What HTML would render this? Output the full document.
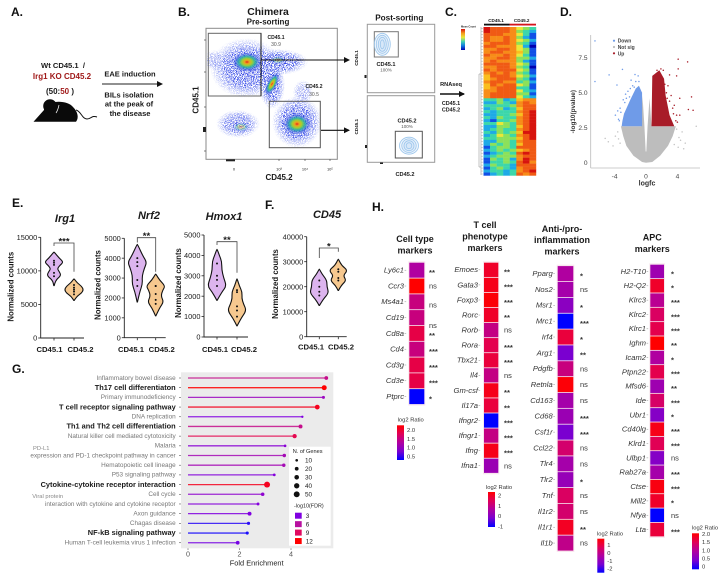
<!DOCTYPE html>
<html lang="en">
<head>
<meta charset="utf-8">
<title>Irg1 chimera figure</title>
<style>
html,body{margin:0;padding:0;background:#fff;width:720px;height:581px;overflow:hidden}
svg{display:block;font-family:"Liberation Sans",sans-serif;filter:blur(.35px)}
text{fill:#1a1a1a}
.b{font-weight:bold}
.m{text-anchor:middle}
.e{text-anchor:end}
.pl{font-weight:bold;font-size:12px;fill:#111}
</style>
</head>
<body>
<svg id="figure" width="720" height="581" viewBox="0 0 720 581" xmlns="http://www.w3.org/2000/svg">
<defs>
<radialGradient id="hot"><stop offset="0" stop-color="#e0281a"/><stop offset=".16" stop-color="#f0a020"/><stop offset=".34" stop-color="#a0d030"/><stop offset=".55" stop-color="#28b0a0" stop-opacity=".9"/><stop offset=".8" stop-color="#3050e0" stop-opacity=".45"/><stop offset="1" stop-color="#3050e0" stop-opacity="0"/></radialGradient>
<radialGradient id="cloud"><stop offset="0" stop-color="#1c30e0" stop-opacity="1"/><stop offset=".6" stop-color="#2a40e8" stop-opacity=".85"/><stop offset="1" stop-color="#5a70f0" stop-opacity="0"/></radialGradient>
<filter id="speckle" x="0" y="0" width="100%" height="100%"><feTurbulence type="fractalNoise" baseFrequency="1.1" numOctaves="2" seed="4" result="n"/><feColorMatrix in="n" type="matrix" values="0 0 0 0 0 0 0 0 0 0 0 0 0 0 0 0 0 0 -14 7.2" result="m"/><feComposite in="SourceGraphic" in2="m" operator="in"/></filter>
<clipPath id="flow-clip"><rect x="207" y="29" width="129.5" height="129.5"/></clipPath>
<linearGradient id="ratio" x1="0" y1="0" x2="0" y2="1"><stop offset="0" stop-color="#ff0000"/><stop offset=".25" stop-color="#e00058"/><stop offset=".5" stop-color="#b000a0"/><stop offset=".75" stop-color="#7a00d0"/><stop offset="1" stop-color="#0000ff"/></linearGradient>
<linearGradient id="meancount" x1="0" y1="0" x2="0" y2="1"><stop offset="0" stop-color="#d7100e"/><stop offset=".2" stop-color="#f59a1c"/><stop offset=".4" stop-color="#e8e838"/><stop offset=".6" stop-color="#40d0b0"/><stop offset=".8" stop-color="#1078e0"/><stop offset="1" stop-color="#0000b0"/></linearGradient>
<marker id="ah" markerWidth="6" markerHeight="6" refX="5" refY="3" orient="auto" markerUnits="userSpaceOnUse"><path d="M0,0 L6,3 L0,6 Z" fill="#111"/></marker>
</defs>

<g>
<text class="pl" x="11" y="16">A.</text>
<text class="b m" x="63" y="68" font-size="7.6">Wt CD45.1 &#160;/</text>
<text class="b m" x="62" y="79" font-size="8" style="fill:#a01a1a">Irg1 KO CD45.2</text>
<text class="b m" x="60" y="94" font-size="8">(50:<tspan style="fill:#a01a1a">50</tspan> )</text>
<g>
<path d="M33.5,121.8 L44,110 C44,103 50,100 55,102 C62,101 70,103 73,107 C78,112 79,118 76,121.8 Z" fill="#0a0a0a"/>
<circle cx="50" cy="106" r="6.8" fill="#0a0a0a"/>
<path d="M59,105 Q58,110 56,113" stroke="#fff" stroke-width=".7" fill="none"/>
<path d="M76,110 C81,111 82,119 87,119 C91,119 92,115 97,117" stroke="#111" stroke-width="1" fill="none"/>
</g>
<text class="b m" x="130" y="76.5" font-size="7.5">EAE induction</text>
<line x1="102" y1="84" x2="162" y2="84" stroke="#222" stroke-width="1" marker-end="url(#ah)"/>
<text class="b m" x="129" y="97.5" font-size="7.5">BILs isolation</text>
<text class="b m" x="129" y="106.5" font-size="7.5">at the peak of</text>
<text class="b m" x="130" y="116" font-size="7.5">the disease</text>
</g>

<g>
<text class="pl" x="178" y="16">B.</text>
<text class="b m" x="268" y="15" font-size="10.4">Chimera</text>
<text class="b m" x="268" y="24.5" font-size="8">Pre-sorting</text>
<g>
<rect x="206" y="28.3" width="131.3" height="131" fill="#fff" stroke="#8a8a8a" stroke-width="1"/>
<g clip-path="url(#flow-clip)">
<g filter="url(#speckle)">
<rect x="207" y="29" width="129" height="129" fill="none"/>
<ellipse cx="246" cy="68" rx="36" ry="30" fill="url(#cloud)"/>
<ellipse cx="278" cy="62" rx="30" ry="13" fill="url(#cloud)"/>
<ellipse cx="272" cy="85" rx="13" ry="24" fill="url(#cloud)"/>
<ellipse cx="297" cy="122" rx="25" ry="26" fill="url(#cloud)"/>
<ellipse cx="238" cy="124" rx="22" ry="14" fill="url(#cloud)" opacity=".8"/>
<ellipse cx="303" cy="92" rx="10" ry="12" fill="url(#cloud)" opacity=".5"/>
<ellipse cx="214" cy="60" rx="11" ry="10" fill="url(#cloud)" opacity=".45"/>
</g>
<ellipse cx="247" cy="62" rx="15" ry="10" fill="url(#hot)"/>
<ellipse cx="272" cy="84" rx="5" ry="13" fill="url(#hot)" transform="rotate(28 272 84)"/>
<ellipse cx="278" cy="60" rx="8" ry="4" fill="url(#hot)" opacity=".4"/>
<ellipse cx="297" cy="124" rx="14" ry="11" fill="url(#hot)"/>
<ellipse cx="241" cy="127" rx="9" ry="5" fill="url(#hot)" opacity=".4"/>
</g>
<path d="M204,40h2M204,72h2M204,107h2M204,151h2M234,159v2M279,159v2M305,159v2M330,159v2" stroke="#555" stroke-width=".7"/>
<rect x="203" y="127" width="3" height="5" fill="#222"/>
<rect x="226" y="159.3" width="9" height="2" fill="#222"/>
</g>
<rect x="208.3" y="33.3" width="52.7" height="62.7" fill="none" stroke="#666" stroke-width="1"/>
<line x1="261" y1="33.3" x2="261" y2="96" stroke="#111" stroke-width="1"/>
<rect x="269.3" y="101.3" width="51" height="46.4" fill="none" stroke="#555" stroke-width="1"/>
<line x1="261" y1="60" x2="349" y2="60" stroke="#111" stroke-width="1.1" marker-end="url(#ah)"/>
<line x1="321" y1="130.3" x2="349" y2="130.3" stroke="#111" stroke-width="1.1" marker-end="url(#ah)"/>
<text class="b m" x="276" y="39" font-size="5">CD45.1</text>
<text class="m" x="276" y="46" font-size="5" style="fill:#555">30.9</text>
<text class="b m" x="314" y="88" font-size="5">CD45.2</text>
<text class="m" x="314" y="96" font-size="5" style="fill:#555">30.5</text>
<text class="b m" font-size="8" transform="translate(198.5 100) rotate(-90)">CD45.1</text>
<text class="b m" x="279" y="180" font-size="8">CD45.2</text>
<text class="m" x="234" y="170.5" font-size="4">0</text>
<text class="m" x="279" y="170.5" font-size="4">10³</text>
<text class="m" x="305" y="170.5" font-size="4">10⁴</text>
<text class="m" x="330" y="170.5" font-size="4">10⁵</text>

<text class="b m" x="399.3" y="20.5" font-size="8.2">Post-sorting</text>
<g>
<rect x="367.3" y="24.3" width="67.4" height="68.4" fill="#fff" stroke="#999" stroke-width="1"/>
<rect x="374.3" y="31.7" width="24" height="25.3" fill="none" stroke="#777" stroke-width="1"/>
<g fill="#cfe2f6" fill-opacity=".35" stroke="#9cc6ec" stroke-width=".8">
<ellipse cx="382.3" cy="44.3" rx="8" ry="11"/><ellipse cx="382.3" cy="44.3" rx="6" ry="9"/><ellipse cx="382.3" cy="44.3" rx="4" ry="7"/><ellipse cx="382.3" cy="44.3" rx="2" ry="4.5"/></g>
<text class="b m" x="386" y="66" font-size="5.6">CD45.1</text>
<text class="m" x="386" y="71.5" font-size="4.5" style="fill:#555">100%</text>
<rect x="364.5" y="75" width="2" height="3" fill="#222"/>
</g>
<g>
<rect x="367.3" y="95.7" width="67.4" height="66.6" fill="#fff" stroke="#999" stroke-width="1"/>
<rect x="395.3" y="131.3" width="27" height="26.7" fill="none" stroke="#555" stroke-width="1"/>
<g fill="#cfe2f6" fill-opacity=".35" stroke="#9cc6ec" stroke-width=".8">
<ellipse cx="409" cy="145.7" rx="9.5" ry="8.5"/><ellipse cx="409" cy="145.7" rx="7.2" ry="6.8"/><ellipse cx="409" cy="145.7" rx="5" ry="5"/><ellipse cx="409" cy="145.7" rx="2.8" ry="3"/></g>
<text class="b m" x="407" y="122.5" font-size="5.6">CD45.2</text>
<text class="m" x="407" y="128" font-size="4.5" style="fill:#555">100%</text>
<rect x="365" y="145" width="2" height="3" fill="#222"/>
<rect x="380" y="162.5" width="3" height="1.5" fill="#222"/>
</g>
<text class="b m" font-size="4.6" transform="translate(358 58) rotate(-90)">CD45.1</text>
<text class="b m" font-size="4.6" transform="translate(358 126.7) rotate(-90)">CD45.1</text>
<text class="b m" x="405" y="176" font-size="5.6">CD45.2</text>
</g>

<g>
<text class="pl" x="445" y="16">C.</text>
<text class="b m" x="451" y="86" font-size="5.6">RNAseq</text>
<line x1="440" y1="94" x2="464" y2="94" stroke="#111" stroke-width="1.4" marker-end="url(#ah)"/>
<text class="b m" x="451" y="105" font-size="5.4">CD45.1</text>
<text class="b m" x="451" y="111.5" font-size="5.4">CD45.2</text>
<text class="b m" x="496" y="22" font-size="4.6">CD45.1</text>
<text class="b m" x="521.7" y="22" font-size="4.6">CD45.2</text>
<rect x="484" y="23.7" width="25.5" height="1.8" fill="#111"/>
<rect x="509.5" y="23.7" width="26.5" height="1.8" fill="#d4141c"/>
<text x="461" y="27.3" font-size="2.6" class="b">Mean Count</text>
<rect x="461" y="29" width="4" height="21" fill="url(#meancount)"/>
<path d="M479,74V167M479,74h2M479,167h2M481,27V175" stroke="#aaa" stroke-width=".7" fill="none"/>
<g id="heatmap"></g>
</g>

<g>
<text class="pl" x="560" y="16">D.</text>
<g id="volcano"></g>
<text class="b m" font-size="6.4" transform="translate(575 111.7) rotate(-90)" style="fill:#333">-log10(pvalue)</text>
<text class="b m" x="647" y="185.5" font-size="7" style="fill:#333">logfc</text>
<circle cx="614" cy="40.7" r="1.1" fill="#6f9be8"/>
<circle cx="614" cy="47" r="1.1" fill="#bbb"/>
<circle cx="614" cy="53.3" r="1.1" fill="#a81c28"/>
<text class="b" x="617.7" y="42.7" font-size="5" style="fill:#444">Down</text>
<text class="b" x="617.7" y="49" font-size="5" style="fill:#444">Not sig</text>
<text class="b" x="617.7" y="55.3" font-size="5" style="fill:#444">Up</text>
</g>

<g>
<text class="pl" x="12" y="207">E.</text>
<g id="violins"></g>
</g>
<text class="pl" x="265" y="209">F.</text>

<g>
<text class="pl" x="12" y="373">G.</text>
<rect x="181" y="372.3" width="152.3" height="176" fill="#ebebeb"/>
<g id="lollipop"></g>
<text x="33" y="450" font-size="5.8" style="fill:#888">PD-L1</text>
<text x="32.3" y="498" font-size="5.8" style="fill:#888">Viral protein</text>
<text class="m" x="256.7" y="565.5" font-size="7.4" style="fill:#222">Fold Enrichment</text>
<rect x="289" y="446.7" width="41.7" height="99" fill="#fff"/>
<text x="292.7" y="453" font-size="5.6" style="fill:#222">N. of Genes</text>
<text x="294" y="507.5" font-size="5.4" style="fill:#222">-log10(FDR)</text>
<g id="lollipop-legend"></g>
</g>

<g>
<text class="pl" x="372" y="211">H.</text>
<text class="b m" x="415" y="242" font-size="9">Cell type</text>
<text class="b m" x="415" y="253.5" font-size="9">markers</text>
<text class="b m" x="485" y="228" font-size="9">T cell</text>
<text class="b m" x="485" y="239.5" font-size="9">phenotype</text>
<text class="b m" x="485" y="251" font-size="9">markers</text>
<text class="b m" x="562" y="232" font-size="9">Anti-/pro-</text>
<text class="b m" x="562" y="243" font-size="9">inflammation</text>
<text class="b m" x="562" y="254.5" font-size="9">markers</text>
<text class="b m" x="652.3" y="240.5" font-size="9">APC</text>
<text class="b m" x="652.3" y="252" font-size="9">markers</text>
<g id="heat-strips"></g>
<g id="ratio-legends"></g>
</g>
</svg>

<script>
/* ---------- Panel C: heatmap rows, each digit is one sample's scaled mean count (0 low, 9 high) ---------- */
const heatmapRows = [
"98887543","98887432","88877531","87787421","87787542","78887431","88777520","77887541",
"78877641","87787531","77887442","78777421","88887541","77887430","87888541","78787431",
"68887542","67888431","78877342","68788541","67888331","77888532","78888441","78888532",
"33423677","22432787","33334788","23423688","32333789","22334689","32433789","21334789",
"33543789","22443689","23433789","32434699","23543789","33444689","22443788","24343688",
"13443888","23434678","12343898","23444788","14342798","13343897","24332888","13432788",
"23323789","12323878"
];
/* ---------- Panel D: volcano points ---------- */
const volcanoTicksX = [-4, 0, 4];
const volcanoTicksY = [0, 2.5, 5.0, 7.5];
const grayLogfc = [0,-0.5,-1.6,-2.5,-2.9,-3.2,-0.6,-0.45,-0.2,-0.04,0.04,0.2,0.45,0.7,3.8,3.4,2.8,1.8,0.8];
const grayLogp  = [0,0.05,0.5,1.2,1.9,2.6,2.6,4.8,2.6,0.8,0.8,2.6,4.6,2.6,2.6,1.9,1.2,0.5,0.05];
const grayExtraLogfc = [-5.2,-4.8,-3.9,-4.2,-3.6,6.4,5.0,4.6,4.2,4.8,3.9,4.4,-3.3,-3.5,3.6,4.1];
const grayExtraLogp  = [1.74,1.5,1.9,1.2,2.2,2.6,1.4,2.2,1.8,1.0,2.4,1.6,1.4,1.7,1.3,1.1];
const blueLogfc = [-0.5,-3.1,-3.0,-2.8,-2.0,-1.3,-0.9,-0.5];
const blueLogp  = [2.6,2.6,3.0,3.5,4.5,5.3,5.5,5.0];
const bluePointsLogfc = [-6.5,-6.5,-4.7,-3.0,-3.7,-1.4,-1.0,-1.9,-3.6,-3.9,-3.4,-3.3,-3.5,-2.9,-2.6,-2.3,-2.0,-1.7,-1.3,-0.9,-2.7,-3.2,-2.1,-1.5,-2.5];
const bluePointsLogp  = [8.7,5.8,6.27,6.67,5.55,6.3,6.2,5.9,3.7,3.4,3.0,3.9,3.1,4.5,4.9,5.1,5.3,5.5,5.8,5.8,4.3,3.6,4.7,5.4,4.6];
const redLogfc = [0.7,3.6,3.0,2.5,2.3,1.7,0.8];
const redLogp  = [2.6,2.6,3.4,4.8,6.0,6.6,6.2];
const redPointsLogfc = [4.1,5.3,5.8,6.0,5.4,4.1,3.0,3.9,2.2,4.3,3.9,4.3,3.5,2.6,3.0,3.4,3.8,2.8,3.2,4.0,2.4,1.9,1.4,3.1,2.7,3.6];
const redPointsLogp  = [7.4,7.2,4.7,3.75,3.8,6.7,6.27,6.2,6.6,4.6,3.4,3.4,3.5,5.0,4.4,3.9,3.0,5.5,4.8,2.9,5.6,6.7,6.6,3.0,4.6,4.1];
/* ---------- Panels E/F: violin densities ---------- */
const groupLabels = ["CD45.1", "CD45.2"];
const irg1Ticks = [0, 5000, 10000, 15000];
const irg1WtLevels = [7800,8600,9300,9900,10300,10800,11300,11900,12800];
const irg1WtDensity = [.02,.15,.75,.55,.35,.6,1,.55,.02];
const irg1WtDots = [9200,9700,10900,11200,11500];
const irg1KoLevels = [5600,6200,6700,7200,7700,8200,8800];
const irg1KoDensity = [.02,.3,.8,1,.8,.35,.02];
const irg1KoDots = [6500,6900,7200,7500,7900];
const nrf2Ticks = [0, 1000, 2000, 3000, 4000, 5000];
const nrf2WtLevels = [1800,2300,2700,3100,3500,3800,4100,4700];
const nrf2WtDensity = [.02,.25,.55,.5,.75,1,.6,.02];
const nrf2WtDots = [2600,2900,3600,3800,4000];
const nrf2KoLevels = [1100,1500,1800,2100,2400,2600,2900,3200];
const nrf2KoDensity = [.02,.4,.85,.55,.75,1,.4,.02];
const nrf2KoDots = [1700,1900,2200,2600,2600];
const hmox1Ticks = [0, 1000, 2000, 3000, 4000, 5000];
const hmox1WtLevels = [1800,2200,2500,2900,3300,3700,4000,4300];
const hmox1WtDensity = [.02,.5,1,.7,.5,.5,.25,.02];
const hmox1WtDots = [2500,2800,3000,3600];
const hmox1KoLevels = [550,900,1300,1600,1900,2200,2500,2850];
const hmox1KoDensity = [.02,.4,1,.7,.5,.55,.25,.02];
const hmox1KoDots = [1000,1300,1500,2200,2300];
const cd45Ticks = [0, 10000, 20000, 30000, 40000];
const cd45WtLevels = [12500,15000,17500,20000,22500,25000,27000];
const cd45WtDensity = [.02,.4,1,.8,.8,.3,.02];
const cd45WtDots = [16500,18000,20000,22500];
const cd45KoLevels = [18500,20500,22500,24500,26500,28500,31000];
const cd45KoDensity = [.02,.3,.85,.5,1,.35,.02];
const cd45KoDots = [22500,23500,26000,27000];
/* ---------- Panel G: enrichment ---------- */
const pathways = ["Inflammatory bowel disease","Th17 cell differentiaton","Primary immunodeficiency","T cell receptor signaling pathway","DNA replication","Th1 and Th2 cell differentiation","Natural killer cell mediated cytotoxicity","Malaria","expression and PD-1 checkpoint pathway in cancer","Hematopoietic cell lineage","P53 signaling pathway","Cytokine-cytokine receptor interaction","Cell cycle","interaction with cytokine and cytokine receptor","Axon guidance","Chagas disease","NF-kB signaling pathway","Human T-cell leukemia virus 1 infection"];
const boldPathways = ["Th17 cell differentiaton","T cell receptor signaling pathway","Th1 and Th2 cell differentiation","Cytokine-cytokine receptor interaction","NF-kB signaling pathway"];
const foldEnrichment = [5.37,5.29,5.26,5.02,4.44,4.37,4.14,3.77,3.74,3.72,3.35,3.07,2.90,2.72,2.39,2.35,2.30,1.93];
const geneCounts = [20,35,13,32,8,22,26,10,17,17,11,50,18,12,22,14,14,20];
const fdrLog = [7,12,4.5,11,3,7,9.5,3.5,5,5,3.2,11,3.8,3.2,3,1.5,1.2,2.8];
const axisFoldTicks = [0, 2, 4];
const geneLegend = [10, 20, 30, 40, 50];
const fdrLegend = [3, 6, 9, 12];
/* ---------- Panel H: log2 ratio strips ---------- */
const cellTypeGenes = ["Ly6c1","Ccr3","Ms4a1","Cd19","Cd8a","Cd4","Cd3g","Cd3e","Ptprc"];
const cellTypeRatios = [1.2,2.1,1.42,1.42,1.74,1.42,1.74,1.74,0.3];
const cellTypeSig = ["**","ns","ns","ns","**","***","***","***","*"];
const tCellGenes = ["Emoes","Gata3","Foxp3","Rorc","Rorb","Rora","Tbx21","Il4","Gm-csf","Il17a","Ifngr2","Ifngr1","Ifng","Ifna1"];
const tCellRatios = [1.8,1.96,2.13,1.8,0.84,1.45,1.62,0.84,1.96,1.62,-1.2,0.84,1.96,0.16];
const tCellSig = ["**","***","***","**","ns","***","***","ns","**","**","***","***","***","ns"];
const inflammationGenes = ["Pparg","Nos2","Msr1","Mrc1","Irf4","Arg1","Pdgfb","Retnla","Cd163","Cd68","Csf1r","Ccl22","Tlr4","Tlr2","Tnf","Il1r2","Il1r1","Il1b"];
const inflammationRatios = [-0.4,-0.6,-1.08,-2.4,0.92,-1.4,0.08,1.52,-0.6,-0.8,-1.4,0.32,-0.6,-0.88,0.48,0.32,1.2,-0.08];
const inflammationSig = ["*","ns","*","***","*","**","ns","ns","ns","***","***","ns","ns","*","ns","ns","**","ns"];
const apcGenes = ["H2-T10","H2-Q2","Klrc3","Klrc2","Klrc1","Ighm","Icam2","Ptpn22","Mfsd6","Ide","Ubr1","Cd40lg","Klrd1","Ulbp1","Rab27a","Ctse","Mill2","Nfya","Lta"];
const apcRatios = [0.82,1.84,1.11,1.48,1.62,2.1,1.0,1.62,0.82,1.44,0.56,1.95,1.57,0.56,0.89,2.0,1.84,-0.1,1.73];
const apcSig = ["*","*","***","***","***","**","*","***","**","***","*","***","***","ns","***","***","*","ns","***"];
const cellTypeLegendTicks = ["2.0","1.5","1.0","0.5"];
const tCellLegendTicks = ["2","1","0","-1"];
const inflammationLegendTicks = ["1","0","-1","-2"];
const apcLegendTicks = ["2.0","1.5","1.0","0.5","0"];

const NS = "http://www.w3.org/2000/svg";
function mk(parent, tag, attrs, txt) {
  const el = document.createElementNS(NS, tag);
  for (const k in attrs) el.setAttribute(k, attrs[k]);
  if (txt !== undefined) el.textContent = txt;
  parent.appendChild(el);
  return el;
}
function hexLerp(stops, t) {
  t = Math.max(0, Math.min(1, t));
  const n = stops.length - 1, i = Math.min(n - 1, Math.floor(t * n)), f = t * n - i;
  const a = stops[i], b = stops[i + 1];
  return "rgb(" + a.map((v, k) => Math.round(v + (b[k] - v) * f)).join(",") + ")";
}
const ratioStops = [[0,0,255],[122,0,208],[176,0,160],[224,0,88],[255,0,0]];
const countStops = [[0,0,176],[16,80,230],[30,170,230],[60,215,170],[140,225,90],[235,232,56],[250,190,30],[247,140,24],[240,90,20],[215,20,14]];

/* Heatmap */
(function () {
  const g = document.getElementById("heatmap");
  const left = 483.5, top = 27, cw = 52.5 / 8, rh = 148.5 / heatmapRows.length;
  heatmapRows.forEach((row, r) => {
    row.split("").forEach((d, c) => {
      const cell = mk(g, "rect", {x: left + c * cw, y: top + r * rh, width: cw + .2, height: rh + .2, fill: hexLerp(countStops, (+d) / 9)});
      
      
    });
    const tick = mk(g, "line", {x1: 481, x2: 483, y1: top + r * rh + rh / 2, y2: top + r * rh + rh / 2, stroke: "#999", "stroke-width": .4});
    
    
  });
})();

/* Volcano */
(function () {
  const g = document.getElementById("volcano");
  const X = v => 646 + v * 7.85, Y = v => 162.7 - v * 14;
  const poly = (xs, ys, fill, name) => {
    const p = mk(g, "polygon", {points: xs.map((x, i) => X(x) + "," + Y(ys[i])).join(" "), fill: fill});
    
    
  };
  const dots = (xs, ys, fill, name) => xs.forEach((x, i) => {
    const c = mk(g, "circle", {cx: X(x), cy: Y(ys[i]), r: .75, fill: fill});
    
    
  });
  poly(grayLogfc, grayLogp, "#bdbdbd", "not-significant-cloud");
  dots(grayExtraLogfc, grayExtraLogp, "#c4c4c4", "not-significant-point");
  poly(blueLogfc, blueLogp, "#6f9be8", "down-regulated-cloud");
  dots(bluePointsLogfc, bluePointsLogp, "#6f9be8", "down-regulated-point");
  poly(redLogfc, redLogp, "#a81c28", "up-regulated-cloud");
  dots(redPointsLogfc, redPointsLogp, "#a81c28", "up-regulated-point");
  const yAxis = mk(g, "line", {x1: 590.7, x2: 590.7, y1: 35, y2: 168, stroke: "#bbb", "stroke-width": .8});
  
  
  const xAxis = mk(g, "line", {x1: 590.7, x2: 700, y1: 168, y2: 168, stroke: "#bbb", "stroke-width": .8});
  
  
  volcanoTicksX.forEach(t => {
    const l = mk(g, "text", {x: X(t), y: 178.5, "font-size": 6.6, "text-anchor": "middle", style: "fill:#444"}, String(t));
    
    
  });
  volcanoTicksY.forEach(t => {
    const l = mk(g, "text", {x: 587.5, y: Y(t) + 2.3, "font-size": 6.6, "text-anchor": "end", style: "fill:#444"}, t === 0 ? "0" : t.toFixed(1));
    
    
  });
})();

/* Violins */
function violinPath(levels, density, yS, cx, w) {
  const pts = [];
  levels.forEach((v, i) => pts.push([cx + density[i] * w, yS(v)]));
  for (let i = levels.length - 1; i >= 0; i--) pts.push([cx - density[i] * w, yS(levels[i])]);
  let d = "M" + pts[0][0] + "," + pts[0][1];
  for (let i = 1; i < pts.length - 1; i++) {
    const mx = (pts[i][0] + pts[i + 1][0]) / 2, my = (pts[i][1] + pts[i + 1][1]) / 2;
    d += "Q" + pts[i][0] + "," + pts[i][1] + " " + mx + "," + my;
  }
  return d + "L" + pts[pts.length - 1][0] + "," + pts[pts.length - 1][1] + "Z";
}
function drawViolinPanel(cfg) {
  const g = mk(document.getElementById("violins"), "g", {});
  
  
  const yS = v => cfg.y0 - (v / cfg.yMax) * (cfg.y0 - cfg.yTop);
  const title = mk(g, "text", {x: cfg.titleX, y: cfg.titleY, "font-size": 11, "font-weight": "bold", "font-style": "italic", "text-anchor": "middle"}, cfg.title);
  
  
  const yl = mk(g, "text", {"font-size": 7.8, "font-weight": "bold", "text-anchor": "middle", transform: "translate(" + cfg.ylX + " " + cfg.ylY + ") rotate(-90)"}, "Normalized counts");
  
  
  const axis = mk(g, "path", {d: "M" + cfg.x0 + "," + cfg.yTop + "V" + cfg.y0 + "H" + cfg.xEnd, fill: "none", stroke: "#222", "stroke-width": .9});
  
  
  cfg.ticks.forEach(t => {
    const tk = mk(g, "line", {x1: cfg.x0 - 2.5, x2: cfg.x0, y1: yS(t), y2: yS(t), stroke: "#222", "stroke-width": .8});
    
    
    const lb = mk(g, "text", {x: cfg.x0 - 3.5, y: yS(t) + 2.6, "font-size": 7.4, "text-anchor": "end"}, String(t));
    
    
  });
  cfg.series.forEach((s, i) => {
    const tk = mk(g, "line", {x1: cfg.cx[i], x2: cfg.cx[i], y1: cfg.y0, y2: cfg.y0 + 2.5, stroke: "#222", "stroke-width": .8});
    
    
    const lb = mk(g, "text", {x: cfg.lx[i], y: cfg.labelY, "font-size": 7.7, "font-weight": "bold", "text-anchor": "middle"}, groupLabels[i]);
    
    
    const v = mk(g, "path", {d: violinPath(s.levels, s.density, yS, cfg.cx[i], 9.5), fill: i ? "#f6c88f" : "#dcb4ee", stroke: "#111", "stroke-width": 1.1});
    
    
    s.dots.forEach(val => {
      const c = mk(g, "circle", {cx: cfg.cx[i], cy: yS(val), r: 1, fill: "#111"});
      
      
    });
  });
  const br = mk(g, "path", {d: "M" + cfg.cx[0] + "," + cfg.brL + "V" + cfg.brY + "H" + cfg.cx[1] + "V" + cfg.brR, fill: "none", stroke: "#444", "stroke-width": .8});
  
  
  const st = mk(g, "text", {x: (cfg.cx[0] + cfg.cx[1]) / 2, y: cfg.brY + 1.5, "font-size": 9.5, "font-weight": "bold", "text-anchor": "middle"}, cfg.stars);
  
  
}
drawViolinPanel({key:"irg1",title:"Irg1",titleX:65,titleY:222,ylX:13.5,ylY:286.7,x0:40.7,y0:338,yTop:237.3,xEnd:84,yMax:15000,ticks:irg1Ticks,cx:[54,74],lx:[49.5,80.5],labelY:352,brY:243,brL:246,brR:271.7,stars:"***",
  series:[{levels:irg1WtLevels,density:irg1WtDensity,dots:irg1WtDots},{levels:irg1KoLevels,density:irg1KoDensity,dots:irg1KoDots}]});
drawViolinPanel({key:"nrf2",title:"Nrf2",titleX:149,titleY:219,ylX:100.5,ylY:285,x0:124.3,y0:337.7,yTop:238.3,xEnd:165.7,yMax:5000,ticks:nrf2Ticks,cx:[137.3,155.7],lx:[131,161.7],labelY:352,brY:237.7,brL:242.5,brR:271.7,stars:"**",
  series:[{levels:nrf2WtLevels,density:nrf2WtDensity,dots:nrf2WtDots},{levels:nrf2KoLevels,density:nrf2KoDensity,dots:nrf2KoDots}]});
drawViolinPanel({key:"hmox1",title:"Hmox1",titleX:224,titleY:220,ylX:181,ylY:283,x0:204,y0:337,yTop:235,xEnd:248,yMax:5000,ticks:hmox1Ticks,cx:[217,237],lx:[215,244],labelY:352,brY:241.7,brL:245,brR:272.7,stars:"**",
  series:[{levels:hmox1WtLevels,density:hmox1WtDensity,dots:hmox1WtDots},{levels:hmox1KoLevels,density:hmox1KoDensity,dots:hmox1KoDots}]});
drawViolinPanel({key:"cd45",title:"CD45",titleX:327,titleY:218,ylX:278,ylY:284,x0:306.7,y0:336.7,yTop:236.7,xEnd:346.7,yMax:40000,ticks:cd45Ticks,cx:[319.3,338.3],lx:[311,341],labelY:349.5,brY:248,brL:258,brR:251.7,stars:"*",
  series:[{levels:cd45WtLevels,density:cd45WtDensity,dots:cd45WtDots},{levels:cd45KoLevels,density:cd45KoDensity,dots:cd45KoDots}]});

/* Lollipop */
(function () {
  const g = document.getElementById("lollipop");
  const X = v => 188 + v * 25.75, Y = i => 378 + i * 9.69;
  const fdrColor = v => v <= 3 ? hexLerp([[16,16,255],[128,0,224]], (v - 1) / 2) : hexLerp([[128,0,224],[184,16,160],[224,10,96],[255,0,0]], (v - 3) / 9);
  const R = n => Math.sqrt(n) * .42;
  pathways.forEach((name, i) => {
    const bold = boldPathways.indexOf(name) >= 0;
    const lb = mk(g, "text", {x: 175.7, y: Y(i) + (bold ? 2.2 : 1.8), "font-size": bold ? 7.4 : 6.4, "font-weight": bold ? "bold" : "normal", "text-anchor": "end", style: "fill:" + (bold ? "#1a1a1a" : "#777")}, name);
    
    
    const dash = mk(g, "line", {x1: 179, x2: 181, y1: Y(i), y2: Y(i), stroke: "#555", "stroke-width": .6});
    
    
    const stem = mk(g, "line", {x1: X(0), x2: X(foldEnrichment[i]), y1: Y(i), y2: Y(i), stroke: fdrColor(fdrLog[i]), "stroke-width": 1.3, "stroke-opacity": .85});
    
    
    const dot = mk(g, "circle", {cx: X(foldEnrichment[i]), cy: Y(i), r: R(geneCounts[i]), fill: fdrColor(fdrLog[i])});
    
    
  });
  axisFoldTicks.forEach(t => {
    const tk = mk(g, "line", {x1: X(t), x2: X(t), y1: 548.3, y2: 550, stroke: "#555", "stroke-width": .6});
    
    
    const lb = mk(g, "text", {x: X(t), y: 556.5, "font-size": 7.2, "text-anchor": "middle", style: "fill:#555"}, String(t));
    
    
  });
  const lg = document.getElementById("lollipop-legend");
  geneLegend.forEach((n, i) => {
    const y = 460.3 + i * 8.5;
    const c = mk(lg, "circle", {cx: 296.7, cy: y, r: R(n), fill: "#111"});
    
    
    const t = mk(lg, "text", {x: 305, y: y + 2.3, "font-size": 6.4, style: "fill:#222"}, String(n));
    
    
  });
  fdrLegend.forEach((n, i) => {
    const y = 515.7 + i * 8.45;
    const c = mk(lg, "rect", {x: 295, y: y - 3, width: 6.7, height: 6, fill: fdrColor(n)});
    
    
    const t = mk(lg, "text", {x: 305.7, y: y + 2.3, "font-size": 6.4, style: "fill:#222"}, String(n));
    
    
  });
})();

/* Heat strips */
function drawStrip(cfg) {
  const g = mk(document.getElementById("heat-strips"), "g", {});
  
  
  const bg = mk(g, "rect", {x: cfg.x - 1, y: cfg.top - 1, width: cfg.w + 2, height: cfg.h * cfg.genes.length + 2, fill: "#f8e6ee"});
  
  
  cfg.genes.forEach((gene, i) => {
    const t = (cfg.ratios[i] - cfg.min) / (cfg.max - cfg.min);
    const y = cfg.top + i * cfg.h;
    const cell = mk(g, "rect", {x: cfg.x, y: y + .4, width: cfg.w, height: cfg.h - .8, fill: hexLerp(ratioStops, t)});
    
    
    const lb = mk(g, "text", {x: cfg.labelX, y: y + cfg.h / 2 + 2.4, "font-size": 7.6, "font-style": "italic", "text-anchor": "end", style: "fill:#333"}, gene);
    
    
    const tk = mk(g, "line", {x1: cfg.labelX + .6, x2: cfg.labelX + 2.2, y1: y + cfg.h / 2, y2: y + cfg.h / 2, stroke: "#888", "stroke-width": .5});
    
    
    const sig = cfg.sig[i], ns = sig === "ns";
    const nudge = (cfg.nudge && cfg.nudge[gene]) || 0;
    const st = mk(g, "text", {x: cfg.sigX, y: y + cfg.h / 2 + nudge + (ns ? 2.6 : 4.8), "font-size": ns ? 7.4 : 7.6, "font-weight": ns ? "normal" : "bold", style: "fill:#333"}, sig);
    
    
  });
}
drawStrip({key:"cell-type",genes:cellTypeGenes,ratios:cellTypeRatios,sig:cellTypeSig,min:0.3,max:2.1,x:409.3,w:15,top:262.3,h:15.8,labelX:404,sigX:429,nudge:{Ms4a1:3,Cd19:8}});
drawStrip({key:"t-cell",genes:tCellGenes,ratios:tCellRatios,sig:tCellSig,min:-1.2,max:2.2,x:484,w:14.3,top:262.3,h:15.07,labelX:478,sigX:504});
drawStrip({key:"inflammation",genes:inflammationGenes,ratios:inflammationRatios,sig:inflammationSig,min:-2.4,max:1.6,x:557.7,w:15.6,top:265.7,h:15.85,labelX:552.7,sigX:580});
drawStrip({key:"apc",genes:apcGenes,ratios:apcRatios,sig:apcSig,min:-0.1,max:2.1,x:650.3,w:13.7,top:264.3,h:14.34,labelX:646,sigX:671});

/* Ratio legends */
function drawRatioLegend(cfg) {
  const g = mk(document.getElementById("ratio-legends"), "g", {});
  
  
  const t = mk(g, "text", {x: cfg.tx, y: cfg.ty, "font-size": 5.8, "text-anchor": "middle", style: "fill:#333"}, "log2 Ratio");
  
  
  const b = mk(g, "rect", {x: cfg.x, y: cfg.top, width: 7, height: cfg.bottom - cfg.top, fill: "url(#ratio)"});
  
  
  cfg.ticks.forEach((lbl, i) => {
    const y = cfg.first + (cfg.last - cfg.first) * i / (cfg.ticks.length - 1);
    const l = mk(g, "text", {x: cfg.x + 10, y: y + 2, "font-size": 5.8, style: "fill:#333"}, lbl);
    
    
  });
}
drawRatioLegend({key:"cell-type",tx:410.7,ty:421.5,x:397,top:425.3,bottom:460,ticks:cellTypeLegendTicks,first:430,last:456.3});
drawRatioLegend({key:"t-cell",tx:499,ty:489,x:488,top:492,bottom:527,ticks:tCellLegendTicks,first:495.7,last:526.3});
drawRatioLegend({key:"inflammation",tx:610,ty:535.5,x:597.3,top:538.7,bottom:572.7,ticks:inflammationLegendTicks,first:545,last:568.7});
drawRatioLegend({key:"apc",tx:705,ty:529.5,x:692,top:533.3,bottom:569.3,ticks:apcLegendTicks,first:534,last:566.7});
</script>
</body>
</html>
